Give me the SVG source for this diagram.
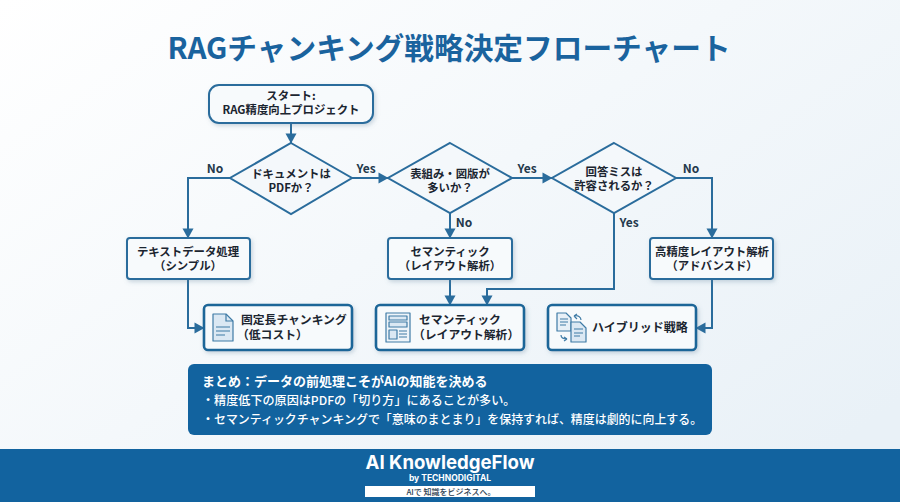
<svg xmlns="http://www.w3.org/2000/svg" width="900" height="502" viewBox="0 0 900 502">
<style>
text{font-family:"Noto Sans CJK JP","Noto Sans",sans-serif;text-anchor:middle;font-weight:700;fill:#1b2530}
.t{font-size:11.4px}
.r{font-size:11.8px;text-anchor:start}
.l{font-size:12px;font-weight:700;fill:#24394c}
.box{fill:#f7fafc;stroke:#2a6c9c;stroke-width:2;filter:url(#sh)}
.res{fill:#f7fafc;stroke:#1f6698;stroke-width:2.6;filter:url(#sh)}
.dia{fill:#f4f8fb;stroke:#2a6c9c;stroke-width:2}
.c{fill:none;stroke:#2a6c9c;stroke-width:2}
.ic{fill:#dbe8f3;stroke:#3f7ba6;stroke-width:1.2;stroke-linejoin:round}
.il{fill:none;stroke:#3f7ba6;stroke-width:1.2}
.s{fill:#fff;text-anchor:start;font-weight:500;font-size:12px}
.f{fill:#fff;font-family:Inter,"Noto Sans",sans-serif;font-weight:700}
</style>
<defs>
<linearGradient id="bg" x1="0" y1="0" x2="1" y2="0.8"><stop offset="0" stop-color="#ffffff"/><stop offset="0.5" stop-color="#f4f8fb"/><stop offset="1" stop-color="#e9f1f7"/></linearGradient>
<filter id="sh" x="-10%" y="-15%" width="125%" height="140%"><feDropShadow dx="1.5" dy="2" stdDeviation="2" flood-color="#5a7d98" flood-opacity="0.3"/></filter>
<marker id="a" markerUnits="userSpaceOnUse" markerWidth="12" markerHeight="12" refX="10" refY="6" orient="auto"><path d="M0.5 0.5L10.5 6L0.5 11.5Z" fill="#2a6c9c"/></marker>
</defs>
<rect width="900" height="502" fill="url(#bg)"/>
<text x="449" y="59" style="fill:#1a639e;font-size:29.7px">RAGチャンキング戦略決定フローチャート</text>

<g id="connectors">
<path class="c" marker-end="url(#a)" d="M291 123V143"/>
<path class="c" marker-end="url(#a)" d="M230 178H188V238"/>
<path class="c" marker-end="url(#a)" d="M352 178H388"/>
<path class="c" marker-end="url(#a)" d="M450 213V238"/>
<path class="c" marker-end="url(#a)" d="M512 178H552"/>
<path class="c" marker-end="url(#a)" d="M676 178H712V238"/>
<path class="c" marker-end="url(#a)" d="M188 279V328H204"/>
<path class="c" marker-end="url(#a)" d="M450 279V305"/>
<path class="c" marker-end="url(#a)" d="M614 213V289H487V305"/>
<path class="c" marker-end="url(#a)" d="M712 279V328H696"/>
<text class="l" x="215" y="173">No</text>
<text class="l" x="366" y="173">Yes</text>
<text class="l" x="464" y="227">No</text>
<text class="l" x="527" y="173">Yes</text>
<text class="l" x="691" y="173">No</text>
<text class="l" x="629" y="227">Yes</text>
</g>

<g id="start"><rect class="box" x="209" y="85" width="164" height="38" rx="10"/>
<text class="t"><tspan x="291" y="100">スタート:</tspan><tspan x="291" y="114">RAG精度向上プロジェクト</tspan></text></g>

<g id="q1"><path class="dia" d="M291 143L352 178L291 214L230 178Z"/>
<text class="t"><tspan x="291" y="178">ドキュメントは</tspan><tspan x="291" y="192">PDFか？</tspan></text></g>
<g id="q2"><path class="dia" d="M450 143L512 178L450 213L388 178Z"/>
<text class="t"><tspan x="450" y="178">表組み・図版が</tspan><tspan x="450" y="192">多いか？</tspan></text></g>
<g id="q3"><path class="dia" d="M614 143L676 178L614 213L552 178Z"/>
<text class="t"><tspan x="614" y="176">回答ミスは</tspan><tspan x="614" y="190">許容されるか？</tspan></text></g>

<g id="text-process"><rect class="box" x="127" y="238" width="123" height="41" rx="3"/>
<text class="t"><tspan x="188" y="256">テキストデータ処理</tspan><tspan x="188" y="270">（シンプル）</tspan></text></g>
<g id="semantic-process"><rect class="box" x="388" y="238" width="124" height="41" rx="3"/>
<text class="t"><tspan x="450" y="256">セマンティック</tspan><tspan x="450" y="270">（レイアウト解析）</tspan></text></g>
<g id="advanced-process"><rect class="box" x="650" y="238" width="123" height="41" rx="3"/>
<text class="t"><tspan x="712" y="256">高精度レイアウト解析</tspan><tspan x="712" y="270">（アドバンスド）</tspan></text></g>

<g id="fixed-result"><rect class="res" x="204" y="305" width="148" height="45" rx="4"/>
<path class="ic" d="M213 314H226L233 321V341H213Z"/><path class="il" d="M226 314V321H233M216 327H230M216 331H230M216 335H225"/>
<text class="r"><tspan x="241" y="324">固定長チャンキング</tspan><tspan x="237" y="339">（低コスト）</tspan></text></g>

<g id="semantic-result"><rect class="res" x="376" y="305" width="148" height="45" rx="4"/>
<rect class="ic" x="386" y="313" width="24" height="29" style="fill:#eef4f9"/><rect class="ic" x="389" y="316" width="18" height="4"/><rect class="ic" x="389" y="322" width="18" height="5"/><rect class="ic" x="389" y="330" width="8" height="9"/><path class="il" d="M399 331H407M399 334H407M399 337H407"/>
<text class="r"><tspan x="419" y="324">セマンティック</tspan><tspan x="413" y="339">（レイアウト解析）</tspan></text></g>

<g id="hybrid-result"><rect class="res" x="548" y="305" width="148" height="45" rx="4"/>
<path class="ic" style="fill:#e8f0f7" d="M557 313H566L571 318V331H557Z"/><path class="il" d="M560 319H568M560 322H568M560 325H566"/>
<path class="ic" d="M571 322H580L586 328V342H571Z"/><path class="il" d="M574 329H583M574 333H583M574 336H580"/>
<path class="il" d="M574 316C578 315 581 317 581 320M574 316L577 314M574 316L577 319M561 335C561 338 563 339 567 339M567 339L564 337M567 339L564 341"/>
<text class="r" x="592" y="332" style="font-size:12px">ハイブリッド戦略</text></g>

<g id="summary"><rect x="188" y="364" width="524" height="71" rx="6" fill="#12639f"/>
<text class="s" x="202" y="386" style="font-size:13px;font-weight:600">まとめ：データの前処理こそがAIの知能を決める</text>
<text class="s" x="202" y="405" style="font-size:12.1px">・精度低下の原因はPDFの「切り方」にあることが多い。</text>
<text class="s" x="202" y="424" style="font-size:11.95px">・セマンティックチャンキングで「意味のまとまり」を保持すれば、精度は劇的に向上する。</text></g>

<g id="footer"><rect x="0" y="449" width="900" height="53" fill="#12639f"/>
<text class="f" x="450" y="469" style="font-size:18.6px">AI KnowledgeFlow</text>
<text class="f" x="450" y="481" style="font-size:8.5px">by TECHNODIGITAL</text>
<rect x="365" y="486" width="170" height="11" fill="#fff"/>
<text x="451" y="495" style="fill:#2c3e50;font-size:8px;font-weight:500">AIで 知識をビジネスへ。</text></g>
</svg>
